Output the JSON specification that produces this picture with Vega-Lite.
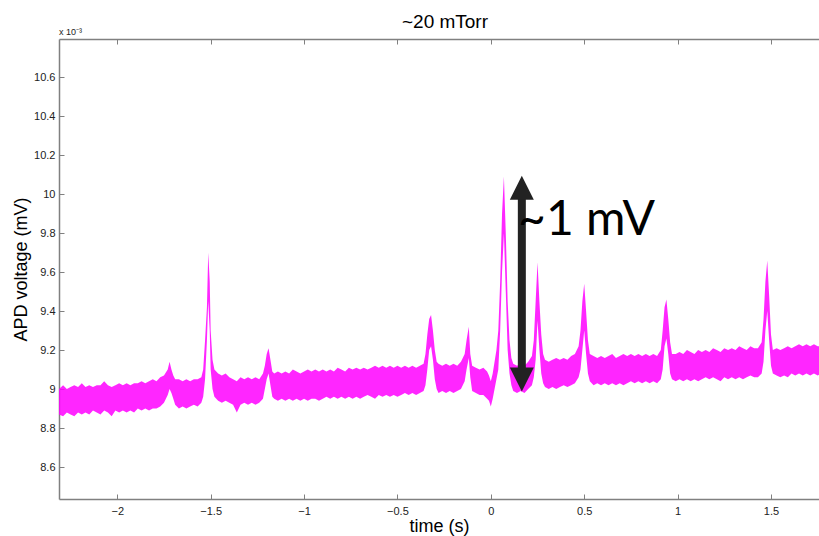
{
  "$schema": "https://vega.github.io/schema/vega-lite/v6.json",
  "width": 760,
  "height": 460,
  "autosize": "none",
  "padding": {"left": 59, "top": 39, "right": 0, "bottom": 37},
  "background": "white",
  "config": {"view": {"stroke": null}, "font": "Liberation Sans"},
  "title": {"text": "~20 mTorr", "fontSize": 19, "fontWeight": "normal", "font": "Liberation Sans", "color": "#000", "offset": -4, "dx": 6},
  "datasets": {
    "signal": [
      {"t":-2.312,"lo":8.87,"hi":9.00},{"t":-2.29,"lo":8.86,"hi":9.02},{"t":-2.27,"lo":8.88,"hi":9.00},{"t":-2.25,"lo":8.87,"hi":9.01},
      {"t":-2.23,"lo":8.86,"hi":9.02},{"t":-2.21,"lo":8.88,"hi":9.01},{"t":-2.19,"lo":8.87,"hi":9.03},{"t":-2.17,"lo":8.88,"hi":9.01},
      {"t":-2.15,"lo":8.87,"hi":9.02},{"t":-2.13,"lo":8.89,"hi":9.01},{"t":-2.11,"lo":8.88,"hi":9.02},{"t":-2.09,"lo":8.87,"hi":9.02},
      {"t":-2.07,"lo":8.89,"hi":9.04},{"t":-2.05,"lo":8.88,"hi":9.02},{"t":-2.03,"lo":8.86,"hi":9.01},{"t":-2.01,"lo":8.89,"hi":9.02},
      {"t":-1.99,"lo":8.88,"hi":9.03},{"t":-1.97,"lo":8.89,"hi":9.02},{"t":-1.95,"lo":8.88,"hi":9.03},{"t":-1.93,"lo":8.89,"hi":9.02},
      {"t":-1.91,"lo":8.88,"hi":9.03},{"t":-1.89,"lo":8.90,"hi":9.03},{"t":-1.87,"lo":8.89,"hi":9.04},{"t":-1.85,"lo":8.90,"hi":9.03},
      {"t":-1.83,"lo":8.89,"hi":9.04},{"t":-1.81,"lo":8.90,"hi":9.05},{"t":-1.79,"lo":8.90,"hi":9.04},{"t":-1.77,"lo":8.91,"hi":9.06},
      {"t":-1.75,"lo":8.93,"hi":9.07},{"t":-1.73,"lo":8.97,"hi":9.10},{"t":-1.72,"lo":9.00,"hi":9.14},{"t":-1.71,"lo":8.98,"hi":9.10},
      {"t":-1.70,"lo":8.95,"hi":9.07},{"t":-1.69,"lo":8.92,"hi":9.05},{"t":-1.67,"lo":8.90,"hi":9.05},{"t":-1.65,"lo":8.91,"hi":9.04},
      {"t":-1.63,"lo":8.90,"hi":9.05},{"t":-1.61,"lo":8.91,"hi":9.04},{"t":-1.59,"lo":8.92,"hi":9.05},{"t":-1.57,"lo":8.91,"hi":9.05},
      {"t":-1.55,"lo":8.93,"hi":9.06},{"t":-1.54,"lo":8.96,"hi":9.10},{"t":-1.53,"lo":9.05,"hi":9.25},{"t":-1.52,"lo":9.25,"hi":9.42},
      {"t":-1.513,"lo":9.45,"hi":9.70},{"t":-1.505,"lo":9.30,"hi":9.55},{"t":-1.50,"lo":9.10,"hi":9.30},{"t":-1.49,"lo":9.00,"hi":9.15},
      {"t":-1.48,"lo":8.96,"hi":9.10},{"t":-1.46,"lo":8.94,"hi":9.08},{"t":-1.44,"lo":8.93,"hi":9.07},{"t":-1.42,"lo":8.94,"hi":9.08},
      {"t":-1.40,"lo":8.93,"hi":9.06},{"t":-1.38,"lo":8.92,"hi":9.05},{"t":-1.36,"lo":8.88,"hi":9.04},{"t":-1.34,"lo":8.92,"hi":9.06},
      {"t":-1.32,"lo":8.93,"hi":9.05},{"t":-1.30,"lo":8.92,"hi":9.06},{"t":-1.28,"lo":8.93,"hi":9.05},{"t":-1.26,"lo":8.92,"hi":9.06},
      {"t":-1.24,"lo":8.93,"hi":9.05},{"t":-1.22,"lo":8.95,"hi":9.08},{"t":-1.21,"lo":9.00,"hi":9.12},{"t":-1.20,"lo":9.05,"hi":9.18},
      {"t":-1.19,"lo":9.08,"hi":9.21},{"t":-1.18,"lo":9.02,"hi":9.15},{"t":-1.17,"lo":8.96,"hi":9.09},{"t":-1.16,"lo":8.95,"hi":9.08},
      {"t":-1.14,"lo":8.94,"hi":9.09},{"t":-1.12,"lo":8.95,"hi":9.08},{"t":-1.10,"lo":8.94,"hi":9.09},{"t":-1.08,"lo":8.95,"hi":9.08},
      {"t":-1.06,"lo":8.94,"hi":9.10},{"t":-1.04,"lo":8.95,"hi":9.09},{"t":-1.02,"lo":8.94,"hi":9.08},{"t":-1.00,"lo":8.95,"hi":9.09},
      {"t":-0.98,"lo":8.94,"hi":9.10},{"t":-0.96,"lo":8.95,"hi":9.09},{"t":-0.94,"lo":8.95,"hi":9.10},{"t":-0.92,"lo":8.94,"hi":9.09},
      {"t":-0.90,"lo":8.95,"hi":9.10},{"t":-0.88,"lo":8.96,"hi":9.09},{"t":-0.86,"lo":8.95,"hi":9.10},{"t":-0.84,"lo":8.96,"hi":9.09},
      {"t":-0.82,"lo":8.95,"hi":9.11},{"t":-0.80,"lo":8.96,"hi":9.10},{"t":-0.78,"lo":8.95,"hi":9.09},{"t":-0.76,"lo":8.96,"hi":9.11},
      {"t":-0.74,"lo":8.95,"hi":9.10},{"t":-0.72,"lo":8.96,"hi":9.11},{"t":-0.70,"lo":8.95,"hi":9.10},{"t":-0.68,"lo":8.96,"hi":9.11},
      {"t":-0.66,"lo":8.97,"hi":9.10},{"t":-0.64,"lo":8.96,"hi":9.11},{"t":-0.62,"lo":8.95,"hi":9.12},{"t":-0.60,"lo":8.97,"hi":9.11},
      {"t":-0.58,"lo":8.96,"hi":9.12},{"t":-0.56,"lo":8.97,"hi":9.11},{"t":-0.54,"lo":8.96,"hi":9.12},{"t":-0.52,"lo":8.97,"hi":9.11},
      {"t":-0.50,"lo":8.96,"hi":9.12},{"t":-0.48,"lo":8.97,"hi":9.11},{"t":-0.46,"lo":8.98,"hi":9.12},{"t":-0.44,"lo":8.97,"hi":9.11},
      {"t":-0.42,"lo":8.98,"hi":9.12},{"t":-0.40,"lo":8.97,"hi":9.11},{"t":-0.38,"lo":8.98,"hi":9.12},{"t":-0.36,"lo":8.99,"hi":9.13},
      {"t":-0.35,"lo":9.02,"hi":9.18},{"t":-0.34,"lo":9.10,"hi":9.28},{"t":-0.33,"lo":9.20,"hi":9.36},{"t":-0.32,"lo":9.22,"hi":9.38},
      {"t":-0.31,"lo":9.15,"hi":9.30},{"t":-0.30,"lo":9.05,"hi":9.20},{"t":-0.29,"lo":9.00,"hi":9.14},{"t":-0.28,"lo":8.98,"hi":9.13},
      {"t":-0.26,"lo":8.99,"hi":9.12},{"t":-0.24,"lo":8.98,"hi":9.13},{"t":-0.22,"lo":8.99,"hi":9.12},{"t":-0.20,"lo":8.98,"hi":9.13},
      {"t":-0.18,"lo":8.99,"hi":9.12},{"t":-0.16,"lo":9.00,"hi":9.14},{"t":-0.14,"lo":9.04,"hi":9.18},{"t":-0.13,"lo":9.10,"hi":9.25},
      {"t":-0.118,"lo":9.16,"hi":9.32},{"t":-0.11,"lo":9.06,"hi":9.18},{"t":-0.10,"lo":8.99,"hi":9.12},{"t":-0.08,"lo":8.98,"hi":9.11},
      {"t":-0.06,"lo":8.97,"hi":9.10},{"t":-0.04,"lo":8.97,"hi":9.11},{"t":-0.02,"lo":8.95,"hi":9.09},{"t":-0.01,"lo":8.94,"hi":9.07},
      {"t":0.00,"lo":8.91,"hi":9.04},{"t":0.01,"lo":8.95,"hi":9.08},{"t":0.02,"lo":9.00,"hi":9.14},{"t":0.03,"lo":9.05,"hi":9.20},
      {"t":0.04,"lo":9.10,"hi":9.30},{"t":0.05,"lo":9.30,"hi":9.55},{"t":0.06,"lo":9.60,"hi":9.90},{"t":0.07,"lo":9.80,"hi":10.09},
      {"t":0.08,"lo":9.50,"hi":9.80},{"t":0.09,"lo":9.20,"hi":9.45},{"t":0.10,"lo":9.08,"hi":9.25},{"t":0.11,"lo":9.02,"hi":9.16},
      {"t":0.12,"lo":8.99,"hi":9.13},{"t":0.14,"lo":8.98,"hi":9.12},{"t":0.16,"lo":8.99,"hi":9.13},{"t":0.18,"lo":8.98,"hi":9.12},
      {"t":0.20,"lo":9.00,"hi":9.14},{"t":0.22,"lo":9.02,"hi":9.17},{"t":0.23,"lo":9.06,"hi":9.25},{"t":0.24,"lo":9.15,"hi":9.45},
      {"t":0.25,"lo":9.35,"hi":9.65},{"t":0.26,"lo":9.20,"hi":9.45},{"t":0.27,"lo":9.08,"hi":9.28},{"t":0.28,"lo":9.03,"hi":9.18},
      {"t":0.29,"lo":9.01,"hi":9.15},{"t":0.31,"lo":9.00,"hi":9.14},{"t":0.33,"lo":9.01,"hi":9.15},{"t":0.35,"lo":9.00,"hi":9.16},
      {"t":0.37,"lo":9.01,"hi":9.15},{"t":0.39,"lo":9.02,"hi":9.16},{"t":0.41,"lo":9.01,"hi":9.15},{"t":0.43,"lo":9.02,"hi":9.17},
      {"t":0.45,"lo":9.03,"hi":9.18},{"t":0.47,"lo":9.06,"hi":9.22},{"t":0.48,"lo":9.10,"hi":9.30},{"t":0.49,"lo":9.20,"hi":9.45},
      {"t":0.50,"lo":9.30,"hi":9.54},{"t":0.51,"lo":9.18,"hi":9.40},{"t":0.52,"lo":9.08,"hi":9.25},{"t":0.53,"lo":9.04,"hi":9.18},
      {"t":0.55,"lo":9.02,"hi":9.17},{"t":0.57,"lo":9.03,"hi":9.16},{"t":0.59,"lo":9.02,"hi":9.17},{"t":0.61,"lo":9.03,"hi":9.16},
      {"t":0.63,"lo":9.02,"hi":9.17},{"t":0.65,"lo":9.03,"hi":9.18},{"t":0.67,"lo":9.02,"hi":9.16},{"t":0.69,"lo":9.03,"hi":9.17},
      {"t":0.71,"lo":9.02,"hi":9.18},{"t":0.73,"lo":9.03,"hi":9.17},{"t":0.75,"lo":9.04,"hi":9.18},{"t":0.77,"lo":9.03,"hi":9.17},
      {"t":0.79,"lo":9.04,"hi":9.18},{"t":0.81,"lo":9.03,"hi":9.17},{"t":0.83,"lo":9.04,"hi":9.18},{"t":0.85,"lo":9.03,"hi":9.17},
      {"t":0.87,"lo":9.04,"hi":9.18},{"t":0.89,"lo":9.03,"hi":9.17},{"t":0.91,"lo":9.05,"hi":9.20},{"t":0.92,"lo":9.10,"hi":9.30},
      {"t":0.93,"lo":9.22,"hi":9.42},{"t":0.94,"lo":9.26,"hi":9.46},{"t":0.95,"lo":9.18,"hi":9.36},{"t":0.96,"lo":9.08,"hi":9.24},
      {"t":0.97,"lo":9.05,"hi":9.18},{"t":0.99,"lo":9.04,"hi":9.18},{"t":1.01,"lo":9.05,"hi":9.19},{"t":1.03,"lo":9.04,"hi":9.18},
      {"t":1.05,"lo":9.05,"hi":9.20},{"t":1.07,"lo":9.04,"hi":9.19},{"t":1.09,"lo":9.05,"hi":9.18},{"t":1.11,"lo":9.04,"hi":9.20},
      {"t":1.13,"lo":9.05,"hi":9.19},{"t":1.15,"lo":9.06,"hi":9.20},{"t":1.17,"lo":9.05,"hi":9.19},{"t":1.19,"lo":9.06,"hi":9.21},
      {"t":1.21,"lo":9.05,"hi":9.20},{"t":1.23,"lo":9.04,"hi":9.19},{"t":1.25,"lo":9.06,"hi":9.21},{"t":1.27,"lo":9.05,"hi":9.20},
      {"t":1.29,"lo":9.06,"hi":9.21},{"t":1.31,"lo":9.05,"hi":9.20},{"t":1.33,"lo":9.06,"hi":9.22},{"t":1.35,"lo":9.05,"hi":9.21},
      {"t":1.37,"lo":9.06,"hi":9.20},{"t":1.39,"lo":9.07,"hi":9.22},{"t":1.41,"lo":9.06,"hi":9.21},{"t":1.43,"lo":9.06,"hi":9.21},
      {"t":1.45,"lo":9.08,"hi":9.24},{"t":1.46,"lo":9.14,"hi":9.36},{"t":1.47,"lo":9.30,"hi":9.55},{"t":1.48,"lo":9.40,"hi":9.66},
      {"t":1.49,"lo":9.25,"hi":9.48},{"t":1.50,"lo":9.12,"hi":9.28},{"t":1.51,"lo":9.08,"hi":9.20},{"t":1.53,"lo":9.07,"hi":9.21},
      {"t":1.55,"lo":9.06,"hi":9.20},{"t":1.57,"lo":9.07,"hi":9.21},{"t":1.59,"lo":9.06,"hi":9.22},{"t":1.61,"lo":9.08,"hi":9.21},
      {"t":1.63,"lo":9.07,"hi":9.22},{"t":1.65,"lo":9.08,"hi":9.23},{"t":1.67,"lo":9.07,"hi":9.22},{"t":1.69,"lo":9.08,"hi":9.23},
      {"t":1.71,"lo":9.07,"hi":9.22},{"t":1.73,"lo":9.08,"hi":9.23},{"t":1.75,"lo":9.07,"hi":9.22},{"t":1.77,"lo":9.08,"hi":9.22}
    ],
    "arrow": [{"t":0.166,"y1":9.06,"y2":10.02}],
    "heads": [{"t":0.166,"y":10.033,"dir":"up"},{"t":0.166,"y":9.049,"dir":"down"}],
    "labels": [{"t":0.146,"y":9.79,"txt":"~1 mV"}],
    "exp": [{"t":-2.312,"y":10.815,"txt":"x 10⁻³"}]
  },
  "resolve": {"axis": {"x": "independent"}},
  "layer": [
    {
      "data": {"name": "signal"},
      "mark": {"type": "area", "color": "#ff00ff", "opacity": 0.85, "clip": true, "interpolate": "linear"},
      "encoding": {
        "x": {"field": "t", "type": "quantitative", "scale": {"domain": [-2.312, 1.757], "nice": false, "zero": false},
          "axis": {"orient": "bottom", "title": "time (s)", "values": [-2,-1.5,-1,-0.5,0,0.5,1,1.5], "format": ".1~f", "grid": false,
            "domainColor": "#808080", "domainWidth": 1.5, "tickColor": "#808080", "tickWidth": 1, "tickSize": -5,
            "labelPadding": 11, "labelFontSize": 11, "labelColor": "#222", "labelFont": "Liberation Sans",
            "titleFontSize": 18, "titleFontWeight": "normal", "titleColor": "#000", "titleFont": "Liberation Sans", "titlePadding": 1}},
        "y": {"field": "lo", "type": "quantitative", "scale": {"domain": [8.436, 10.796], "nice": false, "zero": false},
          "axis": {"orient": "left", "title": "APD voltage (mV)", "values": [8.6,8.8,9,9.2,9.4,9.6,9.8,10,10.2,10.4,10.6], "format": ".1~f", "grid": false,
            "domainColor": "#808080", "domainWidth": 1.5, "tickColor": "#808080", "tickWidth": 1, "tickSize": -5,
            "labelPadding": 9, "labelFontSize": 11, "labelColor": "#222", "labelFont": "Liberation Sans",
            "titleFontSize": 18, "titleFontWeight": "normal", "titleColor": "#000", "titleFont": "Liberation Sans", "titlePadding": 3}},
        "y2": {"field": "hi"}
      }
    },
    {
      "data": {"name": "arrow"},
      "mark": {"type": "rule", "color": "#222222", "strokeWidth": 8},
      "encoding": {
        "x": {"field": "t", "type": "quantitative", "axis": {"orient": "top", "title": null, "labels": false, "values": [-2,-1.5,-1,-0.5,0,0.5,1,1.5], "grid": false,
          "domainColor": "#808080", "domainWidth": 1.5, "tickColor": "#808080", "tickWidth": 1, "tickSize": -5}},
        "y": {"field": "y1", "type": "quantitative"},
        "y2": {"field": "y2"}
      }
    },
    {
      "data": {"name": "heads"},
      "transform": [{"filter": "datum.dir == 'up'"}],
      "mark": {"type": "point", "shape": "M-1,1L0,-1L1,1Z", "filled": true, "color": "#222222", "opacity": 1, "size": 576},
      "encoding": {
        "x": {"field": "t", "type": "quantitative", "axis": null},
        "y": {"field": "y", "type": "quantitative"}
      }
    },
    {
      "data": {"name": "heads"},
      "transform": [{"filter": "datum.dir == 'down'"}],
      "mark": {"type": "point", "shape": "M-1,-1L0,1L1,-1Z", "filled": true, "color": "#222222", "opacity": 1, "size": 576},
      "encoding": {
        "x": {"field": "t", "type": "quantitative", "axis": null},
        "y": {"field": "y", "type": "quantitative"}
      }
    },
    {
      "data": {"name": "labels"},
      "mark": {"type": "text", "align": "left", "baseline": "alphabetic", "font": "Lato", "fontSize": 48, "color": "#000"},
      "encoding": {
        "x": {"field": "t", "type": "quantitative", "axis": null},
        "y": {"field": "y", "type": "quantitative"},
        "text": {"field": "txt"}
      }
    },
    {
      "data": {"name": "exp"},
      "mark": {"type": "text", "align": "left", "baseline": "alphabetic", "font": "Liberation Sans", "fontSize": 9, "color": "#222"},
      "encoding": {
        "x": {"field": "t", "type": "quantitative", "axis": null},
        "y": {"field": "y", "type": "quantitative"},
        "text": {"field": "txt"}
      }
    }
  ]
}
